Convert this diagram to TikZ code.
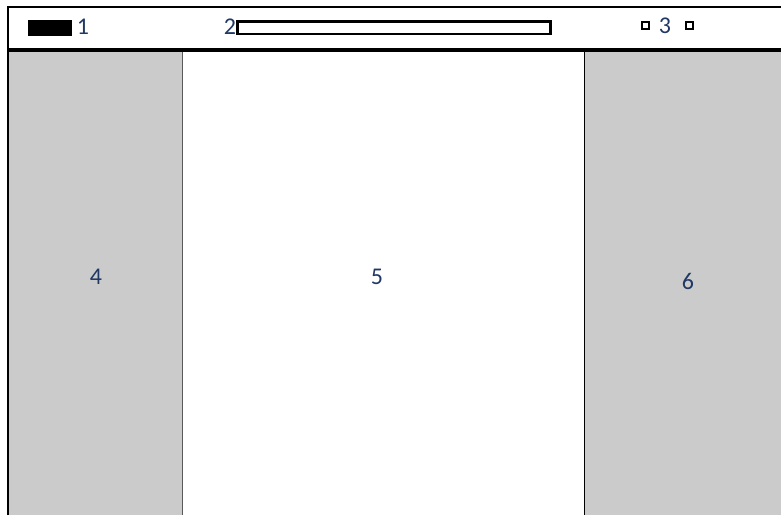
\documentclass[tikz,border=0pt]{standalone}
\usepackage{fontspec}
\setmainfont{Carlito}
\usetikzlibrary{positioning}
\definecolor{panelc}{HTML}{CBCBCB}
\definecolor{labelc}{HTML}{1F3864}
\newcommand{\lblsize}{\fontsize{24}{26}\selectfont}
\tikzset{
  lbl/.style={font=\lblsize,text=labelc,inner sep=0pt},
  side/.style={fill=panelc,draw=none},
  tick/.style={draw=black,line width=2.4pt}
}
\begin{document}
\begin{tikzpicture}[x=1pt,y=-1pt]
\useasboundingbox (0,0) rectangle (781,515);
% panels
\fill[side] (8,51) rectangle (182,515);
\fill[side] (584,51) rectangle (781,515);
\draw[gray!70!black,line width=1pt] (182,51) -- (182,515);
\draw[black,line width=1pt] (584.5,51) -- (584.5,515);
% frame
\draw[line width=2.5pt] (8,515) -- (8,7) -- (781,7);
\draw[line width=3.5pt] (8,50) -- (781,50);
% header
\fill[black] (28,20) rectangle (72,36);
\node[lbl] (one) at (83,27) {1};
\node[lbl] (two) at (230,27) {2};
\draw[tick] (237.5,21.5) rectangle (550.5,34);
\draw[tick] (642,22) rectangle (649,29);
\node[lbl] (three) at (665,26) {3};
\draw[tick] (686,22) rectangle (693,29);
% labels
\node[lbl] (four) at (96,277) {4};
\node[lbl] (five) at (377,277) {5};
\node[lbl] (six) at (688,281) {6};
\end{tikzpicture}
\end{document}
